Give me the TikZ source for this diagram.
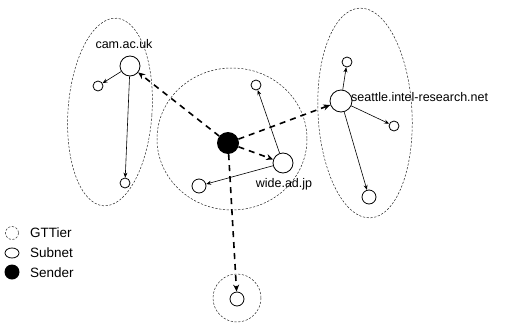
\documentclass[tikz,border=0pt]{standalone}
\usepackage{fontspec}
\setmainfont{Liberation Sans}
\usetikzlibrary{arrows.meta}
\begin{document}
\begin{tikzpicture}[x=1pt,y=-1pt,
  tier/.style={draw=black!85, line width=0.5pt, dash pattern=on 2.2pt off 1.6pt},
  subnet/.style={circle, draw, line width=0.8pt, inner sep=0pt, fill=white},
  sender/.style={circle, fill=black, inner sep=0pt, minimum size=22pt},
  link/.style={-{Stealth[length=5pt,width=4pt]}, line width=0.6pt},
  route/.style={-{Stealth[length=7pt,width=6pt]}, line width=1.6pt, dash pattern=on 6pt off 5pt},
  lbl/.style={font=\fontsize{12.5}{14}\selectfont, inner sep=0pt},
  key/.style={font=\fontsize{13.5}{15}\selectfont, inner sep=0pt, anchor=west},
]
\useasboundingbox (0,0) rectangle (529,324);

% GTTier regions
\draw[tier] (232,139) ellipse [x radius=75, y radius=71];
\draw[tier, rotate around={-4:(110,112)}] (110,112) ellipse [x radius=42, y radius=94];
\draw[tier, rotate around={3:(365,113)}] (365,113) ellipse [x radius=47, y radius=105];
\draw[tier] (237,298) circle (24);

% sender and subnets
\node[sender] (snd) at (228,143) {};

\node[subnet, minimum size=20pt] (cam) at (130,66) {};
\node[subnet, minimum size=10pt] (camA) at (98,86) {};
\node[subnet, minimum size=10pt] (camB) at (125,183) {};

\node[subnet, minimum size=20pt] (wide) at (283,163) {};
\node[subnet, minimum size=10pt] (wideA) at (256,85) {};
\node[subnet, minimum size=14pt] (wideB) at (199,186) {};

\node[subnet, minimum size=22pt] (sea) at (341,101) {};
\node[subnet, minimum size=10pt] (seaA) at (347,62) {};
\node[subnet, minimum size=10pt] (seaB) at (394,126) {};
\node[subnet, minimum size=14pt] (seaC) at (369,197) {};

\node[subnet, minimum size=14pt] (btm) at (237,299) {};

% labels
\node[lbl] (camlbl) at (124,44) {cam.ac.uk};
\node[lbl, anchor=west] (sealbl) at (351,97) {seattle.intel-research.net};
\node[lbl] (widelbl) at (284,184) {wide.ad.jp};

% links inside each subnet tier
\draw[link] (cam) -- (camA);
\draw[link] (cam) -- (camB);
\draw[link] (wide) -- (wideA);
\draw[link] (wide) -- (wideB);
\draw[link] (sea) -- (seaA);
\draw[link] (sea) -- (seaB);
\draw[link] (sea) -- (seaC);

% routes from the sender
\draw[route] (snd) -- (cam);
\draw[route] (snd) -- (sea);
\draw[route] (snd) -- (wide);
\draw[route] (snd) -- (btm);

% legend
\draw[tier] (12,233) circle (6.5) node (kt) {};
\node[key] (ktl) at (30,233) {GTTier};
\draw[line width=0.8pt] (12,253) ellipse [x radius=7, y radius=5] node (ks) {};
\node[key] (ksl) at (30,253) {Subnet};
\node[sender, minimum size=15pt] (kd) at (12,272) {};
\node[key] (kdl) at (30,273) {Sender};
\end{tikzpicture}
\end{document}
